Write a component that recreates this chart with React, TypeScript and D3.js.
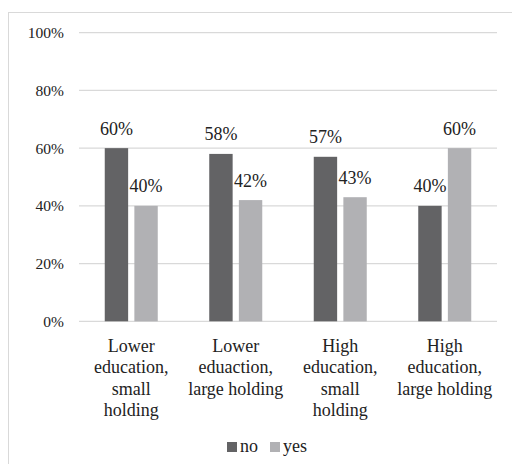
import * as d3 from "d3";

// categories and values
const categories = [
  ["Lower", "education,", "small", "holding"],
  ["Lower", "eduaction,", "large holding"],
  ["High", "education,", "small", "holding"],
  ["High", "education,", "large holding"],
];
const seriesNames = ["no", "yes"];
const noValues = [0.6, 0.58, 0.57, 0.4];
const yesValues = [0.4, 0.42, 0.43, 0.6];
const yTicks = [0, 0.2, 0.4, 0.6, 0.8, 1];

const colors: Record<string, string> = { no: "#636365", yes: "#b1b1b4" };
const font = "'Liberation Serif', 'Times New Roman', 'DejaVu Serif', serif";
const textColor = "#222";

const App = () => {
  const W = 512;
  const H = 464;
  const left = 79;
  const right = 497;
  const y = d3.scaleLinear().domain([0, 1]).range([321.3, 32.7]);
  const x0 = d3
    .scaleBand<number>()
    .domain(d3.range(categories.length))
    .range([left, right]);
  const x1 = d3
    .scaleBand<string>()
    .domain(seriesNames)
    .range([-26.5, 26.5])
    .paddingInner(0.21);
  const fmt = d3.format(".0%");

  const rows = categories.map((c, i) => ({
    label: c,
    no: noValues[i],
    yes: yesValues[i],
  }));

  return (
    <div style={{ position: "absolute", left: 0, top: 0, width: W, height: H, overflow: "hidden" }}>
      <svg width={W} height={H} style={{ display: "block", background: "#fff", fontFamily: font }}>
        {/* chart border, clipped by the picture on the right and bottom */}
        <rect x={8.5} y={12.5} width={520} height={470} fill="#fff" stroke="#d9d9d9" />

        {yTicks.map((t) => (
          <g key={t}>
            <line x1={left} x2={right} y1={y(t)} y2={y(t)} stroke="#d9d9d9" strokeWidth={1.3} />
            <text
              x={64}
              y={y(t)}
              dy="0.35em"
              textAnchor="end"
              fontSize={15.5}
              fill={textColor}
            >
              {fmt(t)}
            </text>
          </g>
        ))}

        {rows.map((r, i) => {
          const cx = (x0(i) ?? 0) + x0.bandwidth() / 2;
          return (
            <g key={i}>
              {seriesNames.map((s) => {
                const v = (r as any)[s] as number;
                const bx = cx + (x1(s) ?? 0);
                return (
                  <g key={s}>
                    <rect
                      x={bx}
                      y={y(v)}
                      width={x1.bandwidth()}
                      height={y(0) - y(v)}
                      fill={colors[s]}
                    />
                    <text
                      x={bx + x1.bandwidth() / 2}
                      y={y(v) - 13.5}
                      textAnchor="middle"
                      fontSize={18}
                      fill={textColor}
                    >
                      {fmt(v)}
                    </text>
                  </g>
                );
              })}
              <text textAnchor="middle" fontSize={18} fill={textColor}>
                {r.label.map((l, j) => (
                  <tspan key={j} x={cx} y={351.5 + j * 21.5}>
                    {l}
                  </tspan>
                ))}
              </text>
            </g>
          );
        })}

        {/* legend */}
        {seriesNames.map((s, i) => {
          const lx = i === 0 ? 227 : 270;
          return (
            <g key={s}>
              <rect x={lx} y={442} width={10} height={10} fill={colors[s]} />
              <text x={lx + 13} y={452} fontSize={18} fill={textColor}>
                {s}
              </text>
            </g>
          );
        })}
      </svg>
    </div>
  );
};

export default App;
